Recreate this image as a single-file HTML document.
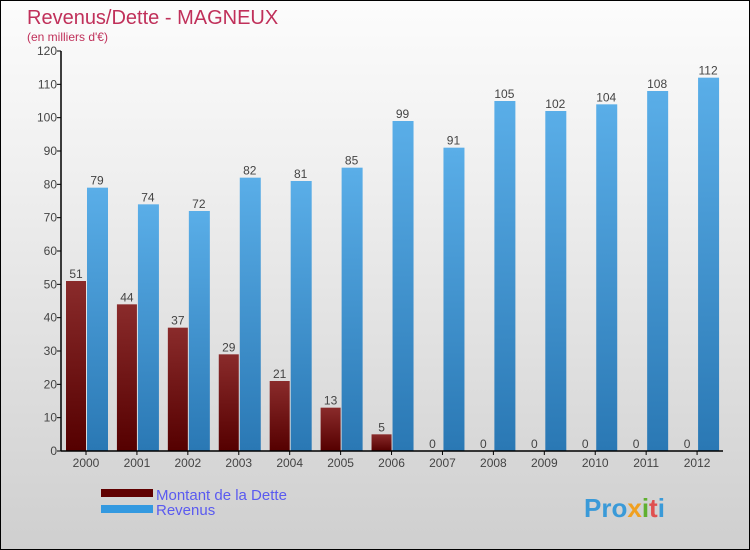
<!DOCTYPE html>
<html><head><meta charset="utf-8"><style>
body{margin:0}
#c{position:relative;width:748px;height:548px;border:1px solid #000;background:linear-gradient(#fcfcfc,#f0f0f0 30%,#cfcfcf);font-family:"Liberation Sans",sans-serif;overflow:hidden}
</style></head><body>
<div id="c">
<svg id="s" width="748" height="548" xmlns="http://www.w3.org/2000/svg">
<defs>
<linearGradient id="gd" x1="0" y1="0" x2="0" y2="1"><stop offset="0" stop-color="#8a2b2b"/><stop offset="1" stop-color="#550000"/></linearGradient>
<linearGradient id="gr" x1="0" y1="0" x2="0" y2="1"><stop offset="0" stop-color="#5aaee8"/><stop offset="1" stop-color="#2a78b4"/></linearGradient>
</defs>
<text x="26" y="23" font-size="20" fill="#c0305a">Revenus/Dette - MAGNEUX</text>
<text x="26" y="40" font-size="12" fill="#c0305a">(en milliers d'€)</text>
<g id="plot"></g>
<rect x="100" y="488" width="52" height="8" fill="#600000"/>
<text x="155" y="499" font-size="15" fill="#5a5af0">Montant de la Dette</text>
<rect x="100" y="504" width="52" height="8" fill="#3399e0"/>
<text x="155" y="514" font-size="15" fill="#5a5af0">Revenus</text>
<text x="583" y="516" font-size="26" font-weight="bold" fill="#3a9ad8">Pro<tspan fill="#f0a020">x</tspan><tspan fill="#60b030">i</tspan><tspan fill="#e05050">t</tspan><tspan fill="#3a9ad8">i</tspan></text>
</svg>
</div>
<script>
const years=["2000","2001","2002","2003","2004","2005","2006","2007","2008","2009","2010","2011","2012"];
const dette=[51,44,37,29,21,13,5,0,0,0,0,0,0];
const revenus=[79,74,72,82,81,85,99,91,105,102,104,108,112];
const yTicks=[0,10,20,30,40,50,60,70,80,90,100,110,120];
const NS="http://www.w3.org/2000/svg";
const g=document.getElementById('plot');
const x0=60,x1=722,yb=450,yt=50,ymax=120;
const bw=(x1-x0)/years.length;
const y=v=>yb-(v/ymax)*(yb-yt);
function mk(t,a){const e=document.createElementNS(NS,t);for(const k in a)e.setAttribute(k,a[k]);g.appendChild(e);return e;}
yTicks.forEach(v=>{
 const l=mk('line',{x1:x0-4,x2:x0,y1:y(v),y2:y(v),stroke:'#000'});
 
 
 const t=mk('text',{x:x0-4,y:y(v)+4,'font-size':12,fill:'#444','text-anchor':'end'});
 t.textContent=v;
 
 
});
years.forEach((yr,i)=>{
 const gx=x0+i*bw;
 const d=mk('rect',{x:gx+5,y:y(dette[i]),width:20,height:yb-y(dette[i]),fill:'url(#gd)'});
 
 
 const r=mk('rect',{x:gx+26,y:y(revenus[i]),width:21,height:yb-y(revenus[i]),fill:'url(#gr)'});
 
 
 const dl=mk('text',{x:gx+15,y:y(dette[i])-3,'font-size':12,fill:'#444','text-anchor':'middle'});
 dl.textContent=dette[i];
 
 
 const rl=mk('text',{x:gx+36,y:y(revenus[i])-3,'font-size':12,fill:'#444','text-anchor':'middle'});
 rl.textContent=revenus[i];
 
 
 const tk=mk('line',{x1:gx+25,x2:gx+25,y1:yb,y2:yb+4,stroke:'#000'});
 
 
 const xl=mk('text',{x:gx+25,y:yb+16,'font-size':12,fill:'#444','text-anchor':'middle'});
 xl.textContent=yr;
 
 
});
const ya=mk('line',{x1:x0,x2:x0,y1:yt,y2:yb,stroke:'#000','stroke-width':1.5});


const xa=mk('line',{x1:x0,x2:x1,y1:yb,y2:yb,stroke:'#000','stroke-width':1.5});


</script>
</body></html>
